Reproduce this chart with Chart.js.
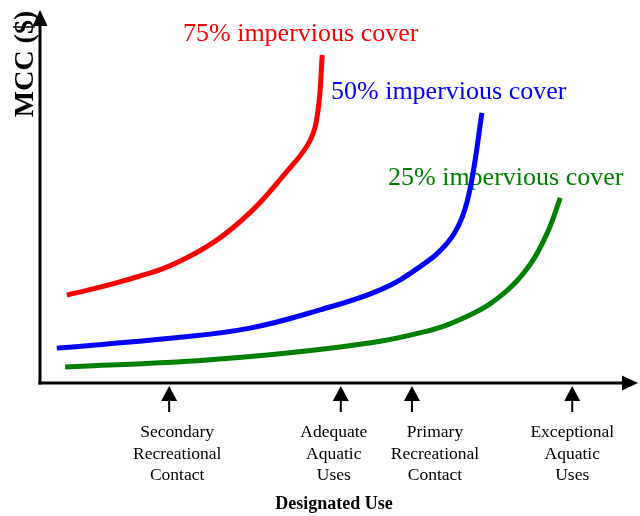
<!DOCTYPE html>
<html>
<head>
<meta charset="utf-8">
<script src="https://cdn.jsdelivr.net/npm/chart.js@4"></script>
<style>
  html, body { margin: 0; padding: 0; background: #fff; }
  #wrap { width: 640px; height: 516px; position: relative; }
</style>
</head>
<body>
<div id="wrap"><canvas id="mccChart"></canvas></div>
<script>
// Series names and curve values (x = designated use level, y = relative MCC)
const seriesNames = ['75% impervious cover', '50% impervious cover', '25% impervious cover'];

const redX = [4.5, 13.9, 23.9, 33.4, 41.8, 45.2, 46.5, 47.2];
const redY = [23.7, 27.5, 33.2, 43.4, 58.0, 65.5, 73.6, 88.4];

const blueX = [2.8, 22.2, 35.1, 46.8, 56.9, 63.5, 68.1, 70.6, 72.2, 73.9];
const blueY = [9.4, 12.1, 14.8, 19.7, 25.1, 31.3, 37.7, 44.7, 54.7, 72.8];

const greenX = [4.2, 27.9, 50.2, 63.5, 71.9, 77.8, 81.9, 84.9, 87.0];
const greenY = [4.3, 6.2, 9.7, 13.5, 18.3, 24.5, 31.8, 40.7, 49.9];

// Designated use categories along the x axis
const useLabels = [
  ['Secondary', 'Recreational', 'Contact'],
  ['Adequate', 'Aquatic', 'Uses'],
  ['Primary', 'Recreational', 'Contact'],
  ['Exceptional', 'Aquatic', 'Uses']
];
const usePositions = [21.6, 50.3, 62.2, 89.0];

const serif = '"Liberation Serif", "Times New Roman", serif';

function pts(xs, ys) {
  return xs.map((x, i) => ({ x: x, y: ys[i] }));
}

// series labels sit under the curves
const seriesLabels = {
  id: 'seriesLabels',
  beforeDatasetsDraw(chart) {
    const ctx = chart.ctx;
    const spots = [[183, 41], [331, 99], [388, 185]];
    ctx.save();
    ctx.font = '26px ' + serif;
    ctx.textAlign = 'left';
    ctx.textBaseline = 'alphabetic';
    chart.data.datasets.forEach((ds, i) => {
      ctx.fillStyle = ds.borderColor;
      ctx.fillText(ds.label, spots[i][0], spots[i][1]);
    });
    ctx.restore();
  }
};

// axes with arrowheads, use-level arrows and titles
const arrowAxes = {
  id: 'arrowAxes',
  afterDatasetsDraw(chart) {
    const ctx = chart.ctx;
    const a = chart.chartArea;
    const xs = chart.scales.x;
    ctx.save();
    ctx.strokeStyle = '#000';
    ctx.fillStyle = '#000';
    ctx.lineWidth = 3;

    // y axis
    ctx.beginPath();
    ctx.moveTo(a.left, a.bottom + 1.5);
    ctx.lineTo(a.left, a.top + 8);
    ctx.stroke();
    ctx.beginPath();
    ctx.moveTo(a.left, a.top - 2);
    ctx.lineTo(a.left - 7.5, a.top + 14);
    ctx.lineTo(a.left + 7.5, a.top + 14);
    ctx.closePath();
    ctx.fill();

    // x axis
    ctx.beginPath();
    ctx.moveTo(a.left - 1.5, a.bottom);
    ctx.lineTo(a.right - 8, a.bottom);
    ctx.stroke();
    ctx.beginPath();
    ctx.moveTo(a.right, a.bottom);
    ctx.lineTo(a.right - 16, a.bottom - 7.5);
    ctx.lineTo(a.right - 16, a.bottom + 7.5);
    ctx.closePath();
    ctx.fill();

    // use-level arrows and labels
    const shift = [8, -7, 23, 0];
    ctx.font = '17.5px ' + serif;
    ctx.textAlign = 'center';
    ctx.textBaseline = 'alphabetic';
    usePositions.forEach((v, i) => {
      const px = xs.getPixelForValue(v);
      ctx.lineWidth = 2;
      ctx.beginPath();
      ctx.moveTo(px, a.bottom + 14);
      ctx.lineTo(px, a.bottom + 29);
      ctx.stroke();
      ctx.beginPath();
      ctx.moveTo(px, a.bottom + 3);
      ctx.lineTo(px - 8, a.bottom + 18);
      ctx.lineTo(px + 8, a.bottom + 18);
      ctx.closePath();
      ctx.fill();
      useLabels[i].forEach((line, j) => {
        ctx.fillText(line, px + shift[i], a.bottom + 54 + j * 21.5);
      });
    });

    // axis titles
    ctx.font = 'bold 18px ' + serif;
    ctx.fillText('Designated Use', 334, 509);

    ctx.translate(33, 64);
    ctx.rotate(-Math.PI / 2);
    ctx.font = 'bold 28px ' + serif;
    ctx.fillText('MCC ($)', 0, 0);
    ctx.restore();
  }
};

new Chart(document.getElementById('mccChart'), {
  type: 'line',
  data: {
    datasets: [
      { label: seriesNames[0], data: pts(redX, redY), borderColor: '#ff0000' },
      { label: seriesNames[1], data: pts(blueX, blueY), borderColor: '#0000ff' },
      { label: seriesNames[2], data: pts(greenX, greenY), borderColor: '#008000' }
    ]
  },
  options: {
    responsive: true,
    maintainAspectRatio: false,
    animation: false,
    layout: { padding: { left: 40, right: 2, top: 12, bottom: 133 } },
    elements: {
      line: { borderWidth: 5, fill: false, tension: 0.4, borderCapStyle: 'butt', borderJoinStyle: 'round' },
      point: { radius: 0 }
    },
    plugins: {
      legend: { display: false },
      tooltip: { enabled: false }
    },
    scales: {
      x: { type: 'linear', min: 0, max: 100, display: false },
      y: { type: 'linear', min: 0, max: 100, display: false }
    }
  },
  plugins: [seriesLabels, arrowAxes]
});
</script>
</body>
</html>
